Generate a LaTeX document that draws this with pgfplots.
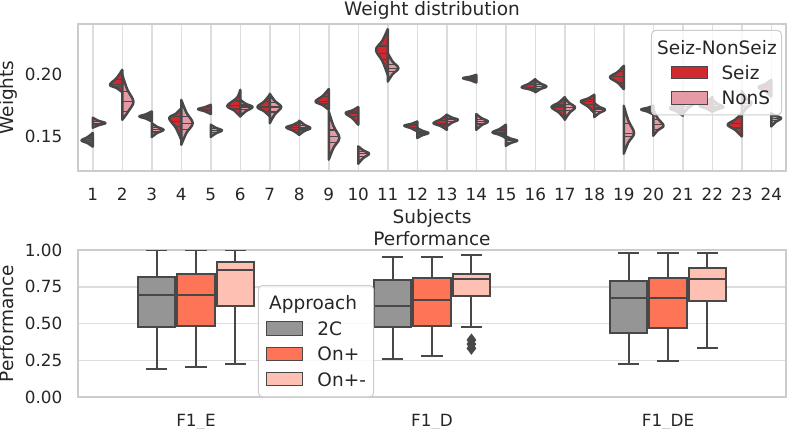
\documentclass[border=0pt]{standalone}
\usepackage{pgfplots}
\pgfplotsset{compat=1.18}
\usepgfplotslibrary{statistics}
\usepackage{fontspec}
\setmainfont{DejaVu Sans}
\definecolor{seiz}{RGB}{208,42,48}
\definecolor{nons}{RGB}{228,155,166}
\definecolor{edge}{RGB}{72,72,72}
\definecolor{c2C}{RGB}{149,149,149}
\definecolor{conp}{RGB}{253,116,86}
\definecolor{conpm}{RGB}{254,192,179}
\definecolor{framec}{RGB}{204,204,204}
\definecolor{gridc}{RGB}{221,221,221}
\definecolor{textc}{RGB}{38,38,38}
\newcommand{\labelsize}{\fontsize{9.25bp}{11bp}\selectfont}
\newcommand{\ticksize}{\fontsize{8.4bp}{10bp}\selectfont}
\pgfplotsset{
  vs/.style={fill=seiz, draw=edge, line width=1.25bp, line join=round, smooth, tension=0.55, mark=none, forget plot},
  vn/.style={fill=nons, draw=edge, line width=1.25bp, line join=round, smooth, tension=0.55, mark=none, forget plot},
  ql/.style={draw=edge, line width=0.6bp, mark=none, forget plot},
  common/.style={
    scale only axis, width=354bp, height=73.5bp, anchor=south west,
    /pgf/number format/assume math mode=true,
    major tick length=0pt,
    axis line style={draw=framec, line width=0.75bp},
    grid style={draw=gridc, line width=0.75bp},
    tick label style={font=\ticksize, text=textc, inner sep=0pt},
    yticklabel style={anchor=east, xshift=-7.65bp, /pgf/number format/fixed, /pgf/number format/fixed zerofill, /pgf/number format/precision=2},
    title style={anchor=base, yshift=-6pt, font=\labelsize, text=textc, inner sep=0pt},
    xlabel style={anchor=base, font=\labelsize, text=textc, inner sep=0pt},
    ylabel style={anchor=base, font=\labelsize, text=textc, inner sep=0pt, at={(axis description cs:-0.091,0.5)}},
    legend cell align=left,
  },
  patchS/.style={legend image code/.code={\path (0bp,0bp); \draw[fill=seiz, draw=edge, line width=0.5bp, fill opacity=1, sharp corners] (7.15bp,-3.1bp) rectangle (25.15bp,3.1bp);}},
  patchN/.style={legend image code/.code={\path (0bp,0bp); \draw[fill=nons, draw=edge, line width=0.5bp, fill opacity=1, sharp corners] (7.15bp,-3.1bp) rectangle (25.15bp,3.1bp);}},
  patchA/.style={legend image code/.code={\draw[fill=c2C, draw=edge, line width=0.5bp, fill opacity=1, sharp corners] (0bp,-3.3bp) rectangle (17.8bp,3.3bp);}},
  patchB/.style={legend image code/.code={\draw[fill=conp, draw=edge, line width=0.5bp, fill opacity=1, sharp corners] (0bp,-3.3bp) rectangle (17.8bp,3.3bp);}},
  patchC/.style={legend image code/.code={\draw[fill=conpm, draw=edge, line width=0.5bp, fill opacity=1, sharp corners] (0bp,-3.3bp) rectangle (17.8bp,3.3bp);}},
  bp/.style={draw=edge, line width=1bp, mark=none, boxplot/draw direction=y, boxplot prepared={box extend=0.16, whisker extend=0.09, #1}},
}
\begin{document}
\begin{tikzpicture}
% ================= TOP: split violins =================
\begin{axis}[common,
  at={(39bp,-85.5bp)},
  xmin=0.5, xmax=24.5, ymin=0.1223, ymax=0.2411,
  xtick={1,...,24}, ytick={0.15,0.20},
  xmajorgrids,
  xticklabel style={anchor=base, yshift=-14.5bp},
  title={Weight distribution}, title style={at={(axis description cs:0.5,1.0612)}},
  xlabel={Subjects}, xlabel style={at={(axis description cs:0.5,-0.3605)}},
  ylabel={Weights},
  legend style={at={(axis description cs:0.99435,0.9592)}, anchor=north east,
    fill=white, fill opacity=0.8, text opacity=1, draw=framec, line width=0.5bp,
    rounded corners=2bp, inner xsep=2.4bp, inner ysep=4.6bp, font=\labelsize, text=textc,
    column sep=7bp, row sep=5.1bp,
    nodes={inner sep=0pt, text height=7.2bp, text depth=0.4bp}},
]
\addlegendimage{empty legend}
\addlegendentry{\hspace*{-32.15bp}Seiz-NonSeiz}
\addlegendimage{patchS}
\addlegendentry{Seiz}
\addlegendimage{patchN}
\addlegendentry{NonS}
% subject 1
\addplot[vs] coordinates {(1,.153) (.829,.1497) (.62,.147) (.829,.1448) (1,.142)} --cycle;
\addplot[vn] coordinates {(1,.1653) (1.194,.1629) (1.43,.161) (1.194,.1593) (1,.1573)} --cycle;
% 2
\addplot[vs] coordinates {(2,.204) (1.811,.1974) (1.58,.192) (1.811,.1893) (2,.186)} --cycle;
\addplot[vn] coordinates {(2,.200) (2.171,.1882) (2.38,.1785) (2.22,.171) (2,.1637)} --cycle;
% 3
\addplot[vs] coordinates {(3,.1704) (2.811,.1682) (2.58,.1664) (2.811,.1646) (3,.1623)} --cycle;
\addplot[vn] coordinates {(3,.161) (3.18,.1580) (3.40,.1556) (3.18,.1530) (3,.1498)} --cycle;
% 4
\addplot[vs] coordinates {(4,.173) (3.8155,.1686) (3.59,.165) (3.8155,.1572) (4,.1476)} --cycle;
\addplot[vn] coordinates {(4,.1798) (4.1755,.1695) (4.39,.161) (4.1755,.1531) (4,.1435)} --cycle;
% 5
\addplot[vs] coordinates {(5,.1758) (4.8065,.1739) (4.57,.1723) (4.8065,.1705) (5,.1683)} --cycle;
\addplot[vn] coordinates {(5,.1597) (5.171,.1572) (5.38,.1551) (5.171,.1527) (5,.1498)} --cycle;
% 6
\addplot[vs] coordinates {(6,.1879) (5.89,.1815) (5.56,.175) (5.802,.1711) (6,.1664)} --cycle;
\addplot[vn] coordinates {(6,.1798) (6.189,.1766) (6.42,.174) (6.189,.1706) (6,.1664)} --cycle;
% 7
\addplot[vs] coordinates {(7,.1839) (6.811,.1785) (6.58,.174) (6.811,.1706) (7,.1664)} --cycle;
\addplot[vn] coordinates {(7,.1847) (7.1755,.1788) (7.39,.174) (7.1755,.1682) (7,.161)} --cycle;
% 8
\addplot[vs] coordinates {(8,.1623) (7.802,.1597) (7.56,.1575) (7.802,.1548) (8,.1516)} --cycle;
\addplot[vn] coordinates {(8,.163) (8.171,.1597) (8.38,.157) (8.171,.1546) (8,.1516)} --cycle;
% 9
\addplot[vs] coordinates {(9,.1885) (8.7975,.1830) (8.55,.1785) (8.7975,.1755) (9,.1718)} --cycle;
\addplot[vn] coordinates {(9,.1704) (9.162,.1586) (9.36,.149) (9.162,.1411) (9,.1315)} --cycle;
% 10
\addplot[vs] coordinates {(10,.174) (9.8065,.1713) (9.57,.1691) (9.8065,.1649) (10,.1597)} --cycle;
\addplot[vn] coordinates {(10,.1422) (10.1665,.1390) (10.37,.1363) (10.1665,.1327) (10,.1282)} --cycle;
% 11
\addplot[vs] coordinates {(11,.2369) (10.82,.2277) (10.60,.2202) (10.82,.2111) (11,.200)} --cycle;
\addplot[vn] coordinates {(11,.2175) (11.162,.2108) (11.36,.2054) (11.162,.2005) (11,.1946)} --cycle;
% 12
\addplot[vs] coordinates {(12,.1623) (11.802,.1604) (11.56,.1589) (11.802,.1568) (12,.1543)} --cycle;
\addplot[vn] coordinates {(12,.157) (12.171,.1548) (12.38,.153) (12.171,.1512) (12,.149)} --cycle;
% 13
\addplot[vs] coordinates {(13,.1677) (12.7975,.1640) (12.55,.161) (12.7975,.1586) (13,.1556)} --cycle;
\addplot[vn] coordinates {(13,.1677) (13.171,.1655) (13.38,.1637) (13.171,.1613) (13,.1583)} --cycle;
% 14
\addplot[vs] coordinates {(14,.200) (13.7975,.1985) (13.55,.1973) (13.7975,.1957) (14,.1938)} --cycle;
\addplot[vn] coordinates {(14,.1683) (14.18,.1650) (14.40,.1623) (14.18,.1593) (14,.1556)} --cycle;
% 15
\addplot[vs] coordinates {(15,.1597) (14.7975,.1563) (14.55,.1535) (14.7975,.1515) (15,.149)} --cycle;
\addplot[vn] coordinates {(15,.1503) (15.1755,.1484) (15.39,.1468) (15.1755,.1450) (15,.1427)} --cycle;
% 16
\addplot[vs] coordinates {(16,.1965) (15.793,.1929) (15.54,.190) (15.793,.1884) (16,.1865)} --cycle;
\addplot[vn] coordinates {(16,.1961) (16.171,.1931) (16.38,.1906) (16.171,.1885) (16,.1859)} --cycle;
% 17
\addplot[vs] coordinates {(17,.182) (16.7975,.1776) (16.55,.174) (16.7975,.1696) (17,.1643)} --cycle;
\addplot[vn] coordinates {(17,.1815) (17.1575,.1772) (17.35,.1737) (17.1575,.1692) (17,.1637)} --cycle;
% 18
\addplot[vs] coordinates {(18,.1839) (17.793,.1809) (17.54,.1785) (17.793,.1743) (18,.1691)} --cycle;
\addplot[vn] coordinates {(18,.1772) (18.1665,.1742) (18.37,.1718) (18.1665,.1691) (18,.1659)} --cycle;
% 19
\addplot[vs] coordinates {(19,.2073) (18.7885,.2022) (18.53,.1981) (18.7885,.1938) (19,.1885)} --cycle;
\addplot[vn] coordinates {(19,.175) (19.1575,.1629) (19.35,.153) (19.1575,.1455) (19,.1363)} --cycle;
% 20
\addplot[vs] coordinates {(20,.175) (19.8155,.1734) (19.59,.172) (19.8155,.1702) (20,.168)} --cycle;
\addplot[vn] coordinates {(20,.1718) (20.1575,.1647) (20.35,.1589) (20.1575,.1553) (20,.1508)} --cycle;
% 21
\addplot[vs] coordinates {(21,.180) (20.8065,.1762) (20.57,.173) (20.8065,.1703) (21,.167)} --cycle;
\addplot[vn] coordinates {(21,.185) (21.171,.1806) (21.38,.177) (21.171,.1730) (21,.168)} --cycle;
% 22
\addplot[vs] coordinates {(22,.182) (21.8065,.1782) (21.57,.175) (21.8065,.1728) (22,.170)} --cycle;
\addplot[vn] coordinates {(22,.180) (22.171,.1767) (22.38,.174) (22.171,.1722) (22,.170)} --cycle;
% 23
\addplot[vs] coordinates {(23,.1691) (22.784,.1639) (22.52,.1597) (22.784,.1554) (23,.1502)} --cycle;
\addplot[vn] coordinates {(23,.187) (23.1485,.1815) (23.33,.177) (23.1485,.1730) (23,.168)} --cycle;
% 24
\addplot[vs] coordinates {(24,.196) (23.8065,.1927) (23.57,.190) (23.8065,.1866) (24,.1825)} --cycle;
\addplot[vn] coordinates {(24,.169) (24.153,.1668) (24.34,.165) (24.153,.1620) (24,.1583)} --cycle;
% quartile lines of the larger halves
\addplot[ql] coordinates {(2,.1965) (1.77,.1965)};
\addplot[ql] coordinates {(2,.192) (1.61,.192)};
\addplot[ql] coordinates {(2,.1906) (1.70,.1906)};
\addplot[ql] coordinates {(2,.1865) (2.20,.1865)};
\addplot[ql] coordinates {(2,.1785) (2.37,.1785)};
\addplot[ql] coordinates {(2,.1705) (2.20,.1705)};
\addplot[ql] coordinates {(4,.1665) (3.70,.1665)};
\addplot[ql] coordinates {(4,.1625) (3.66,.1625)};
\addplot[ql] coordinates {(4,.1585) (3.79,.1585)};
\addplot[ql] coordinates {(4,.1664) (4.25,.1664)};
\addplot[ql] coordinates {(4,.161) (4.38,.161)};
\addplot[ql] coordinates {(4,.1556) (4.24,.1556)};
\addplot[ql] coordinates {(7,.1785) (6.80,.1785)};
\addplot[ql] coordinates {(7,.174) (6.59,.174)};
\addplot[ql] coordinates {(7,.1706) (6.80,.1706)};
\addplot[ql] coordinates {(7,.1775) (7.23,.1775)};
\addplot[ql] coordinates {(7,.174) (7.38,.174)};
\addplot[ql] coordinates {(7,.170) (7.24,.170)};
\addplot[ql] coordinates {(9,.1825) (8.77,.1825)};
\addplot[ql] coordinates {(9,.1785) (8.56,.1785)};
\addplot[ql] coordinates {(9,.1765) (8.72,.1765)};
\addplot[ql] coordinates {(9,.1555) (9.22,.1555)};
\addplot[ql] coordinates {(9,.150) (9.33,.150)};
\addplot[ql] coordinates {(9,.1455) (9.27,.1455)};
\addplot[ql] coordinates {(11,.2234) (10.67,.2234)};
\addplot[ql] coordinates {(11,.2175) (10.63,.2175)};
\addplot[ql] coordinates {(11,.2127) (10.75,.2127)};
\addplot[ql] coordinates {(11,.2081) (11.26,.2081)};
\addplot[ql] coordinates {(11,.2054) (11.35,.2054)};
\addplot[ql] coordinates {(11,.2027) (11.25,.2027)};
\addplot[ql] coordinates {(17,.1757) (16.68,.1757)};
\addplot[ql] coordinates {(17,.174) (16.56,.174)};
\addplot[ql] coordinates {(17,.1715) (16.70,.1715)};
\addplot[ql] coordinates {(17,.1758) (17.23,.1758)};
\addplot[ql] coordinates {(17,.1737) (17.34,.1737)};
\addplot[ql] coordinates {(17,.1712) (17.24,.1712)};
\addplot[ql] coordinates {(18,.1798) (17.68,.1798)};
\addplot[ql] coordinates {(18,.1785) (17.55,.1785)};
\addplot[ql] coordinates {(18,.1762) (17.68,.1762)};
\addplot[ql] coordinates {(18,.1732) (18.25,.1732)};
\addplot[ql] coordinates {(18,.1718) (18.36,.1718)};
\addplot[ql] coordinates {(18,.1702) (18.24,.1702)};
\addplot[ql] coordinates {(19,.2027) (18.80,.2027)};
\addplot[ql] coordinates {(19,.1985) (18.55,.1985)};
\addplot[ql] coordinates {(19,.1935) (18.80,.1935)};
\addplot[ql] coordinates {(19,.161) (19.19,.161)};
\addplot[ql] coordinates {(19,.1524) (19.33,.1524)};
\addplot[ql] coordinates {(19,.1502) (19.27,.1502)};
\addplot[ql] coordinates {(20,.1637) (20.19,.1637)};
\addplot[ql] coordinates {(20,.1597) (20.33,.1597)};
\addplot[ql] coordinates {(20,.1556) (20.17,.1556)};
\addplot[ql] coordinates {(23,.1659) (22.87,.1659)};
\addplot[ql] coordinates {(23,.161) (22.60,.161)};
\addplot[ql] coordinates {(23,.157) (22.69,.157)};
% quartile lines of the small halves (median, upper, lower)
\addplot[ql] coordinates {(1,.147) (0.66,.147)};
\addplot[ql] coordinates {(1,.1488) (0.77,.1488)};
\addplot[ql] coordinates {(1,.1455) (0.77,.1455)};
\addplot[ql] coordinates {(1,.161) (1.39,.161)};
\addplot[ql] coordinates {(1,.1623) (1.26,.1623)};
\addplot[ql] coordinates {(1,.1599) (1.26,.1599)};
\addplot[ql] coordinates {(3,.1664) (2.62,.1664)};
\addplot[ql] coordinates {(3,.1676) (2.75,.1676)};
\addplot[ql] coordinates {(3,.1652) (2.75,.1652)};
\addplot[ql] coordinates {(3,.1556) (3.36,.1556)};
\addplot[ql] coordinates {(3,.1572) (3.24,.1572)};
\addplot[ql] coordinates {(3,.1539) (3.24,.1539)};
\addplot[ql] coordinates {(5,.1723) (4.61,.1723)};
\addplot[ql] coordinates {(5,.1734) (4.74,.1734)};
\addplot[ql] coordinates {(5,.1711) (4.74,.1711)};
\addplot[ql] coordinates {(5,.1551) (5.34,.1551)};
\addplot[ql] coordinates {(5,.1565) (5.23,.1565)};
\addplot[ql] coordinates {(5,.1535) (5.23,.1535)};
\addplot[ql] coordinates {(6,.175) (5.58,.175)};
\addplot[ql] coordinates {(6,.1789) (5.86,.1789)};
\addplot[ql] coordinates {(6,.1724) (5.74,.1724)};
\addplot[ql] coordinates {(6,.174) (6.40,.174)};
\addplot[ql] coordinates {(6,.1757) (6.25,.1757)};
\addplot[ql] coordinates {(6,.1717) (6.25,.1717)};
\addplot[ql] coordinates {(8,.1575) (7.60,.1575)};
\addplot[ql] coordinates {(8,.1589) (7.74,.1589)};
\addplot[ql] coordinates {(8,.1557) (7.74,.1557)};
\addplot[ql] coordinates {(8,.157) (8.34,.157)};
\addplot[ql] coordinates {(8,.1588) (8.23,.1588)};
\addplot[ql] coordinates {(8,.1554) (8.23,.1554)};
\addplot[ql] coordinates {(10,.1691) (9.59,.1691)};
\addplot[ql] coordinates {(10,.1706) (9.74,.1706)};
\addplot[ql] coordinates {(10,.1663) (9.74,.1663)};
\addplot[ql] coordinates {(10,.1363) (10.35,.1363)};
\addplot[ql] coordinates {(10,.1381) (10.22,.1381)};
\addplot[ql] coordinates {(10,.1339) (10.22,.1339)};
\addplot[ql] coordinates {(12,.1589) (11.60,.1589)};
\addplot[ql] coordinates {(12,.1599) (11.74,.1599)};
\addplot[ql] coordinates {(12,.1575) (11.74,.1575)};
\addplot[ql] coordinates {(12,.153) (12.34,.153)};
\addplot[ql] coordinates {(12,.1542) (12.23,.1542)};
\addplot[ql] coordinates {(12,.1518) (12.23,.1518)};
\addplot[ql] coordinates {(13,.161) (12.59,.161)};
\addplot[ql] coordinates {(13,.163) (12.73,.163)};
\addplot[ql] coordinates {(13,.1594) (12.73,.1594)};
\addplot[ql] coordinates {(13,.1637) (13.34,.1637)};
\addplot[ql] coordinates {(13,.1649) (13.23,.1649)};
\addplot[ql] coordinates {(13,.1621) (13.23,.1621)};
\addplot[ql] coordinates {(14,.1973) (13.59,.1973)};
\addplot[ql] coordinates {(14,.1981) (13.73,.1981)};
\addplot[ql] coordinates {(14,.1963) (13.73,.1963)};
\addplot[ql] coordinates {(14,.1623) (14.36,.1623)};
\addplot[ql] coordinates {(14,.1641) (14.24,.1641)};
\addplot[ql] coordinates {(14,.1603) (14.24,.1603)};
\addplot[ql] coordinates {(15,.1535) (14.59,.1535)};
\addplot[ql] coordinates {(15,.1554) (14.73,.1554)};
\addplot[ql] coordinates {(15,.1522) (14.73,.1522)};
\addplot[ql] coordinates {(15,.1468) (15.35,.1468)};
\addplot[ql] coordinates {(15,.1479) (15.23,.1479)};
\addplot[ql] coordinates {(15,.1456) (15.23,.1456)};
\addplot[ql] coordinates {(16,.190) (15.58,.190)};
\addplot[ql] coordinates {(16,.192) (15.72,.192)};
\addplot[ql] coordinates {(16,.189) (15.72,.189)};
\addplot[ql] coordinates {(16,.1906) (16.34,.1906)};
\addplot[ql] coordinates {(16,.1923) (16.23,.1923)};
\addplot[ql] coordinates {(16,.1892) (16.23,.1892)};
\addplot[ql] coordinates {(20,.172) (19.63,.172)};
\addplot[ql] coordinates {(20,.1729) (19.75,.1729)};
\addplot[ql] coordinates {(20,.1708) (19.75,.1708)};
\addplot[ql] coordinates {(21,.173) (20.61,.173)};
\addplot[ql] coordinates {(21,.1751) (20.74,.1751)};
\addplot[ql] coordinates {(21,.1712) (20.74,.1712)};
\addplot[ql] coordinates {(21,.177) (21.34,.177)};
\addplot[ql] coordinates {(21,.1794) (21.23,.1794)};
\addplot[ql] coordinates {(21,.1743) (21.23,.1743)};
\addplot[ql] coordinates {(22,.175) (21.61,.175)};
\addplot[ql] coordinates {(22,.1771) (21.74,.1771)};
\addplot[ql] coordinates {(22,.1735) (21.74,.1735)};
\addplot[ql] coordinates {(22,.174) (22.34,.174)};
\addplot[ql] coordinates {(22,.1758) (22.23,.1758)};
\addplot[ql] coordinates {(22,.1728) (22.23,.1728)};
\addplot[ql] coordinates {(23,.177) (23.30,.177)};
\addplot[ql] coordinates {(23,.180) (23.20,.180)};
\addplot[ql] coordinates {(23,.1743) (23.20,.1743)};
\addplot[ql] coordinates {(24,.190) (23.61,.190)};
\addplot[ql] coordinates {(24,.1918) (23.74,.1918)};
\addplot[ql] coordinates {(24,.1878) (23.74,.1878)};
\addplot[ql] coordinates {(24,.165) (24.30,.165)};
\addplot[ql] coordinates {(24,.1662) (24.20,.1662)};
\addplot[ql] coordinates {(24,.163) (24.20,.163)};
\end{axis}
% ================= BOTTOM: box plots =================
\begin{axis}[common,
  at={(39bp,-198.5bp)},
  xmin=-0.5, xmax=2.5, ymin=0, ymax=1,
  xtick={0,1,2}, xticklabels={F1\_E,F1\_D,F1\_DE},
  ytick={0,0.25,0.5,0.75,1},
  ymajorgrids,
  xticklabel style={anchor=base, yshift=-14.75bp},
  title={Performance}, title style={at={(axis description cs:0.5,1.0327)}},
  ylabel={Performance},
  legend style={at={(axis description cs:0.2542,0.7619)}, anchor=north west,
    fill=white, fill opacity=0.8, text opacity=1, draw=framec, line width=0.5bp,
    rounded corners=2bp, inner xsep=3.85bp, inner ysep=5bp, font=\labelsize, text=textc,
    column sep=7.35bp, row sep=5.1bp,
    nodes={inner sep=0pt, text height=7.2bp, text depth=0.4bp}},
]
\addlegendimage{empty legend}
\addlegendentry{\hspace*{-24.15bp}Approach}
\addlegendimage{patchA}
\addlegendentry{2C}
\addlegendimage{patchB}
\addlegendentry{On+}
\addlegendimage{patchC}
\addlegendentry{On+-}
% F1_E
\addplot[bp={draw position=-0.167, lower whisker=0.19, lower quartile=0.474, median=0.694, upper quartile=0.814, upper whisker=1.0}, fill=c2C] coordinates {};
\addplot[bp={draw position=0, lower whisker=0.206, lower quartile=0.485, median=0.694, upper quartile=0.837, upper whisker=1.0}, fill=conp] coordinates {};
\addplot[bp={draw position=0.167, lower whisker=0.222, lower quartile=0.619, median=0.864, upper quartile=0.92, upper whisker=1.0}, fill=conpm] coordinates {};
% F1_D
\addplot[bp={draw position=0.833, lower whisker=0.258, lower quartile=0.474, median=0.619, upper quartile=0.796, upper whisker=0.954}, fill=c2C] coordinates {};
\addplot[bp={draw position=1, lower whisker=0.279, lower quartile=0.483, median=0.66, upper quartile=0.807, upper whisker=0.954}, fill=conp] coordinates {};
\addplot[bp={draw position=1.167, lower whisker=0.478, lower quartile=0.687, median=0.803, upper quartile=0.837, upper whisker=0.966}, fill=conpm, mark=diamond*, mark size=3bp, mark options={fill=edge, draw=edge, line width=0.3bp}] table[row sep=\\, y index=0] {v\\ 0.388\\ 0.36\\ 0.331\\};
% F1_DE
\addplot[bp={draw position=1.833, lower whisker=0.224, lower quartile=0.438, median=0.671, upper quartile=0.789, upper whisker=0.977}, fill=c2C] coordinates {};
\addplot[bp={draw position=2, lower whisker=0.245, lower quartile=0.467, median=0.671, upper quartile=0.807, upper whisker=0.977}, fill=conp] coordinates {};
\addplot[bp={draw position=2.167, lower whisker=0.335, lower quartile=0.655, median=0.803, upper quartile=0.88, upper whisker=0.982}, fill=conpm] coordinates {};
\end{axis}
\pgfresetboundingbox
\path[use as bounding box] (0bp,0bp) rectangle (394bp,-214.5bp);
\end{tikzpicture}
\end{document}
